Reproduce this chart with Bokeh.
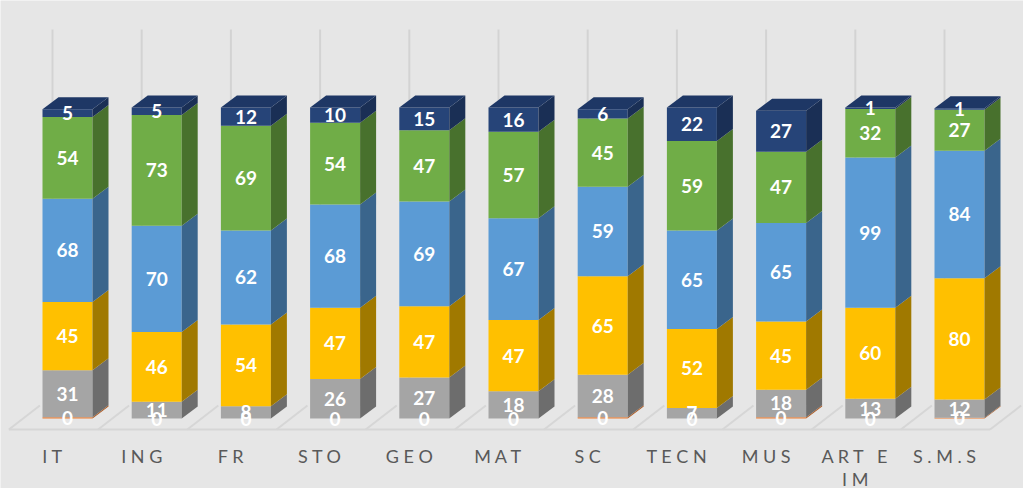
from bokeh.plotting import figure
from bokeh.models import Range1d
from bokeh.core.properties import value
from bokeh.embed import file_html
from bokeh.resources import INLINE

# ---------------- data ----------------
categories = ["IT", "ING", "FR", "STO", "GEO", "MAT", "SC", "TECN", "MUS", "ART E IM", "S.M.S"]
tick_lines = [["IT"], ["ING"], ["FR"], ["STO"], ["GEO"], ["MAT"], ["SC"], ["TECN"], ["MUS"],
              ["ART E", "IM"], ["S.M.S"]]
s_orange = [0.8, 0, 0, 0, 0, 0, 0.8, 0, 0.9, 0, 0.5]
s_gray = [31, 11, 8, 26, 27, 18, 28, 7, 18, 13, 12]
s_yellow = [45, 46, 54, 47, 47, 47, 65, 52, 45, 60, 80]
s_blue = [68, 70, 62, 68, 69, 67, 59, 65, 65, 99, 84]
s_green = [54, 73, 69, 54, 47, 57, 45, 59, 47, 32, 27]
s_navy = [5, 5, 12, 10, 15, 16, 6, 22, 27, 1, 1]

series = [s_orange, s_gray, s_yellow, s_blue, s_green, s_navy]
front_cols = ["#ED7D31", "#A5A5A5", "#FFC000", "#5B9BD5", "#70AD47", "#264478"]
side_cols = ["#B05A20", "#6D6D6D", "#A07900", "#3A658C", "#48712D", "#1A2F55"]
top_col = "#1E3765"

# ---------------- geometry (pixel scale) ----------------
W, H = 1023, 488
PXU = 89.2   # px per category
PYU = 1.517  # px per value unit
X0 = 67      # px from left of category 0 centre
Y0 = 70      # px from bottom of value 0
DX = 16 / PXU
DY = 12 / PYU
HW = 25 / PXU

p = figure(width=W, height=H, output_backend="svg", toolbar_location=None,
           x_range=Range1d(-X0 / PXU, (W - X0) / PXU),
           y_range=Range1d(-Y0 / PYU, (H - Y0) / PYU),
           x_axis_location=None, y_axis_location=None, min_border=0,
           background_fill_color="#E6E6E6", border_fill_color="#E6E6E6",
           outline_line_color=None)
p.xgrid.visible = False
p.ygrid.visible = False

n = len(categories)

# back-wall vertical gridlines
g_off = -15 / PXU
floor_back = 13 / PYU
floor_front = -11 / PYU
wall_top = (418 - 29) / PYU
p.segment(x0=[i + g_off for i in range(n)], y0=[floor_back] * n,
          x1=[i + g_off for i in range(n)], y1=[wall_top] * n,
          line_color="#D3D3D3", line_width=2)

# floor
bounds = [i - 0.5 for i in range(n + 1)]
p.segment(x0=[b - 14 / PXU for b in bounds], y0=[floor_front] * len(bounds),
          x1=[b + 17 / PXU for b in bounds], y1=[floor_back] * len(bounds),
          line_color="#D6D6D6", line_width=2)
p.segment(x0=[bounds[0] - 14 / PXU], y0=[floor_front],
          x1=[bounds[-1] - 14 / PXU], y1=[floor_front],
          line_color="#D6D6D6", line_width=2)

# bars
lx, ly, lt = [], [], []
for i in range(n):
    bottom = 0.0
    fl, fr, fb, ft, fc = [], [], [], [], []
    sxs, sys, sc = [], [], []
    for k, s in enumerate(series):
        v = s[i]
        top = bottom + v
        fl.append(i - HW); fr.append(i + HW); fb.append(bottom); ft.append(top)
        fc.append(front_cols[k])
        xr = i + HW
        sxs.append([xr, xr + DX, xr + DX, xr])
        sys.append([bottom, bottom + DY, top + DY, top])
        sc.append(side_cols[k])
        lx.append(i); ly.append(bottom + v / 2); lt.append(str(int(v)))
        bottom = top
    p.quad(left=fl, right=fr, bottom=fb, top=ft, fill_color=fc, line_color=None)
    p.patches(xs=sxs, ys=sys, fill_color=sc, line_color=None)
    p.patch(x=[i - HW, i + HW, i + HW + DX, i - HW + DX],
            y=[bottom, bottom, bottom + DY, bottom + DY],
            fill_color=top_col, line_color=None)

# data labels
p.text(x=lx, y=ly, text=lt, text_align="center", text_baseline="middle",
       text_color="white", text_font=value("Lato"), text_font_style="bold",
       text_font_size="19px")

# category labels (letter-spaced)
def spaced(s):
    return " ".join("\u00a0" if ch == " " else ch for ch in s)

cx, cy, ct = [], [], []
for i, lines in enumerate(tick_lines):
    for j, line in enumerate(lines):
        cx.append(i + g_off)
        cy.append((-37 - 23 * j) / PYU)
        ct.append(spaced(line))
p.text(x=cx, y=cy, text=ct, text_align="center", text_baseline="middle",
       text_color="#595959", text_font=value("Lato"), text_font_size="18px")

html = file_html(p, INLINE)
html = html.replace("<body>", '<body style="background-color:#E6E6E6;">', 1)
open("out.html", "w").write(html)
